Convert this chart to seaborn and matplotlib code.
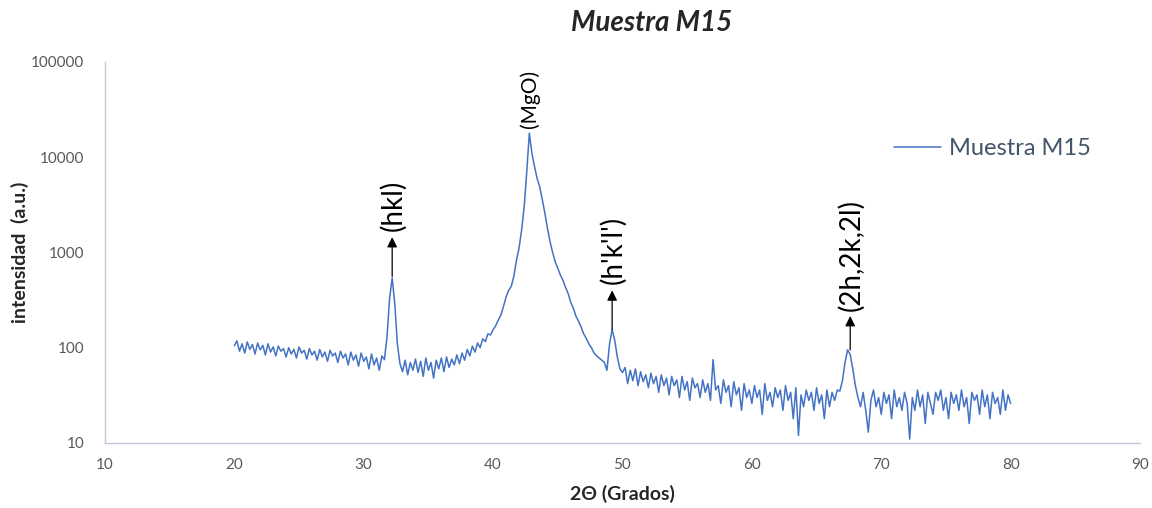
import numpy as np
import pandas as pd
import matplotlib
matplotlib.use("Agg")
import matplotlib.pyplot as plt
import seaborn as sns

# 2theta scan, 0.2 deg step, 20..80
two_theta = [round(20 + 0.2 * i, 1) for i in range(301)]

intensity = [
    105, 118, 92, 110, 88, 115, 96, 108, 86, 112,        # 20.0 - 21.8
    95, 106, 84, 110, 90, 102, 82, 104, 92, 98,          # 22.0 - 23.8
    80, 100, 86, 96, 78, 102, 88, 94, 76, 98,            # 24.0 - 25.8
    84, 92, 74, 96, 80, 90, 72, 94, 82, 88,              # 26.0 - 27.8
    70, 92, 78, 86, 66, 90, 74, 84, 64, 88,              # 28.0 - 29.8
    72, 80, 60, 86, 66, 78, 58, 82, 75, 130,             # 30.0 - 31.8
    330, 540, 290, 110, 68, 56, 74, 52, 70, 58,          # 32.0 - 33.8
    76, 55, 72, 50, 78, 58, 70, 48, 74, 60,              # 34.0 - 35.8
    78, 56, 80, 62, 76, 66, 84, 68, 88, 74,              # 36.0 - 37.8
    96, 82, 104, 90, 112, 100, 124, 116, 140, 136,       # 38.0 - 39.8
    155, 170, 195, 220, 270, 340, 400, 440, 560, 820,    # 40.0 - 41.8
    1100, 1700, 3000, 7000, 17900, 11000, 8000, 6000, 4900, 3600,  # 42.0 - 43.8
    2600, 1800, 1300, 1000, 800, 680, 580, 510, 430, 370,          # 44.0 - 45.8
    300, 260, 215, 190, 165, 140, 125, 110, 100, 88,     # 46.0 - 47.8
    82, 78, 74, 70, 58, 110, 155, 120, 80, 60,           # 48.0 - 49.8
    55, 62, 42, 58, 45, 60, 40, 56, 44, 52,              # 50.0 - 51.8
    38, 54, 42, 50, 34, 52, 40, 48, 32, 50,              # 52.0 - 53.8
    40, 46, 30, 50, 36, 44, 28, 48, 38, 42,              # 54.0 - 55.8
    30, 46, 34, 42, 28, 75, 36, 40, 26, 46,              # 56.0 - 57.8
    34, 40, 24, 44, 32, 38, 22, 42, 30, 36,              # 58.0 - 59.8
    26, 40, 30, 36, 20, 42, 28, 34, 24, 38,              # 60.0 - 61.8
    30, 36, 22, 40, 28, 34, 18, 38, 12, 32,              # 62.0 - 63.8
    24, 36, 28, 34, 22, 38, 26, 32, 18, 36,              # 64.0 - 65.8
    24, 34, 28, 36, 35, 45, 70, 95, 85, 60,              # 66.0 - 67.8
    40, 30, 24, 34, 22, 13, 28, 36, 24, 30,              # 68.0 - 69.8
    20, 34, 26, 32, 18, 36, 24, 30, 22, 34,              # 70.0 - 71.8
    26, 11, 30, 22, 36, 24, 32, 16, 34, 26,              # 72.0 - 73.8
    20, 34, 28, 36, 22, 30, 18, 34, 26, 32,              # 74.0 - 75.8
    22, 36, 24, 30, 16, 34, 28, 32, 20, 36,              # 76.0 - 77.8
    24, 32, 18, 34, 26, 30, 20, 36, 22, 32,              # 78.0 - 79.8
    26,                                                  # 80.0
]

# peak labels: (text, 2theta, arrow tail, arrow head, text base)
peak_labels = ["(hkl)", "(h'k'l')", "(2h,2k,2l)"]
peak_pos = [32.2, 49.2, 67.6]
arrow_tail = [560, 155, 95]
arrow_head = [1450, 400, 215]
text_base = [1700, 470, 245]

y_ticks = [10, 100, 1000, 10000, 100000]
x_ticks = [10, 20, 30, 40, 50, 60, 70, 80, 90]

df = pd.DataFrame({"2theta": two_theta, "I": intensity})

sns.set_style("white")
plt.rcParams["font.family"] = ["Lato", "DejaVu Sans"]

fig = plt.figure(figsize=(11.52, 5.08), dpi=100)
ax = fig.add_axes([0.0911, 0.128, 0.8985, 0.750])

sns.lineplot(data=df, x="2theta", y="I", ax=ax, color="#4472C4",
             linewidth=1.1, label="Muestra M15")

ax.set_yscale("log")
ax.set_xlim(10, 90)
ax.set_ylim(10, 100000)
ax.set_yticks(y_ticks)
ax.set_yticklabels([str(v) for v in y_ticks])
ax.yaxis.set_minor_locator(matplotlib.ticker.NullLocator())
ax.set_xticks(x_ticks)
ax.tick_params(axis="both", length=0, labelsize=11, labelcolor="#595959")
ax.tick_params(axis="x", pad=11)
ax.tick_params(axis="y", pad=15)

for side in ["top", "right"]:
    ax.spines[side].set_visible(False)
for side in ["left", "bottom"]:
    ax.spines[side].set_color("#BFC8D8")
    ax.spines[side].set_linewidth(1.0)

ax.set_xlabel("2Θ (Grados)", fontsize=14, fontweight="bold")
ax.set_ylabel("intensidad  (a.u.)", fontsize=14, fontweight="bold")
ax.xaxis.set_label_coords(0.5, -0.11)
ax.yaxis.set_label_coords(-0.073, 0.5)

for lab, x, t, h, b in zip(peak_labels, peak_pos, arrow_tail, arrow_head, text_base):
    ax.annotate("", xy=(x, h), xytext=(x, t),
                arrowprops=dict(arrowstyle="-|>", color="black", lw=0.9,
                                mutation_scale=15, shrinkA=0, shrinkB=0))
    ax.text(x + 0.05, b, lab, rotation=90, ha="center", va="bottom",
            fontsize=20, color="black")

ax.text(42.85, 20500, "(MgO)", rotation=90, ha="center", va="bottom",
        fontsize=15, color="black")

leg = ax.legend(loc="upper left", bbox_to_anchor=(0.742, 0.855), frameon=False,
                fontsize=17, handlelength=2.0, handletextpad=0.3)
for txt in leg.get_texts():
    txt.set_color("#44546A")

fig.text(0.566, 0.955, "Muestra M15", ha="center", va="center",
         fontsize=20, fontweight="bold", fontstyle="italic")

fig.savefig("out.png", dpi=100)
